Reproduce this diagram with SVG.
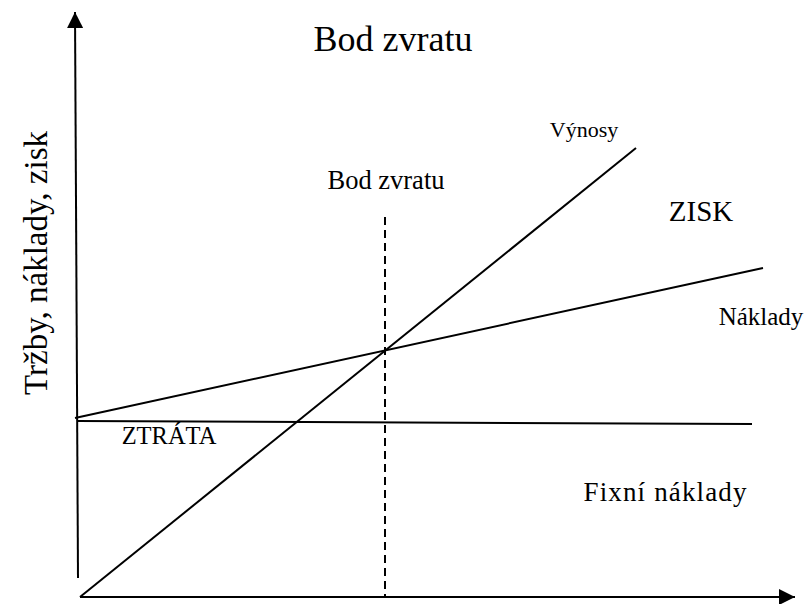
<svg xmlns="http://www.w3.org/2000/svg" width="808" height="604" viewBox="0 0 808 604">
<style>
text{font-family:"Liberation Serif","Times New Roman",serif;fill:#000}
.ln{stroke:#000;stroke-width:2;fill:none}
</style>
<defs>
<marker id="ahb" viewBox="0 0 16 16" refX="16" refY="8" markerWidth="16" markerHeight="16" markerUnits="userSpaceOnUse" orient="auto">
<path d="M0,0 L16,8 L0,16 z" fill="#000"/>
</marker>
</defs>
<rect width="808" height="604" fill="#fff"/>
<g id="connectors">
<line id="y-axis" class="ln" x1="78" y1="578" x2="75" y2="12" marker-end="url(#ahb)"/>
<line id="x-axis" class="ln" x1="80" y1="597" x2="795" y2="597" marker-end="url(#ahb)"/>
<line id="fixed" class="ln" x1="77" y1="421" x2="752" y2="424"/>
<line id="costs" class="ln" x1="75" y1="418" x2="763" y2="268"/>
<line id="revenue" class="ln" x1="80" y1="597" x2="636" y2="148"/>
<line id="breakeven" class="ln" x1="385" y1="217" x2="385" y2="597" stroke-dasharray="8,5"/>
</g>
<g id="title"><text x="393" y="51" font-size="36" text-anchor="middle">Bod zvratu</text></g>
<g id="ylabel"><text transform="translate(47,263) rotate(-90)" font-size="33" text-anchor="middle">Tržby, náklady, zisk</text></g>
<g id="vynosy"><text x="584" y="137" font-size="22" text-anchor="middle">Výnosy</text></g>
<g id="bod"><text x="386" y="189" font-size="26.5" text-anchor="middle">Bod zvratu</text></g>
<g id="zisk"><text x="701" y="221" font-size="29" text-anchor="middle">ZISK</text></g>
<g id="naklady"><text x="761" y="325" font-size="25" text-anchor="middle">Náklady</text></g>
<g id="ztrata"><text x="169" y="444" font-size="24.5" text-anchor="middle">ZTRÁTA</text></g>
<g id="fixni"><text x="665" y="501" font-size="27" text-anchor="middle" textLength="163" lengthAdjust="spacing">Fixní náklady</text></g>
</svg>
